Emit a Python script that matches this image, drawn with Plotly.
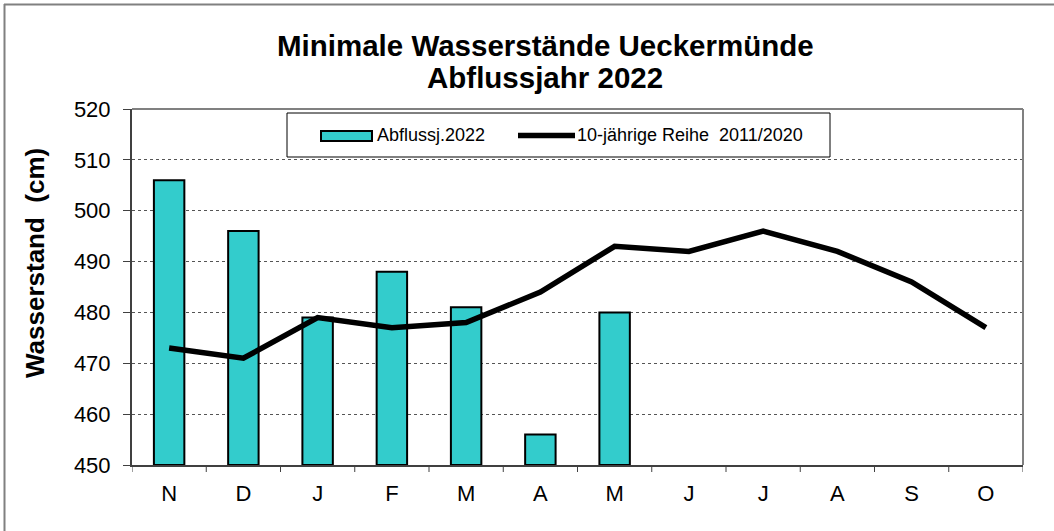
import plotly.graph_objects as go

months = ["N", "D", "J", "F", "M", "A", "M", "J", "J", "A", "S", "O"]
bars_2022 = [506, 496, 479, 488, 481, 456, 480, None, None, None, None, None]
reihe_2011_2020 = [473, 471, 479, 477, 478, 484, 493, 492, 496, 492, 486, 477]
y_ticks = [450, 460, 470, 480, 490, 500, 510, 520]

x = list(range(len(months)))
bar_base = 450
BAR_COLOR = "#33CCCC"

fig = go.Figure()
fig.add_trace(go.Bar(
    x=x, y=[None if v is None else v - bar_base for v in bars_2022], base=bar_base,
    name="Abflussj.2022", width=0.41,
    marker=dict(color=BAR_COLOR, line=dict(color="black", width=2)),
))
fig.add_trace(go.Scatter(
    x=x, y=reihe_2011_2020, mode="lines", name="10-jährige Reihe  2011/2020",
    line=dict(color="black", width=5.5),
))

W, H = 1054, 531
# plot area in page pixels
L, R, T, B = 132, 1023, 109, 465
pw, ph = R - L, B - T

def px(xp):
    return (xp - L) / pw

def py(yp):
    return (B - yp) / ph

shapes = [
    # outer chart frame (left and top visible)
    dict(type="line", xref="paper", yref="paper", x0=px(4.5), x1=px(4.5), y0=py(4), y1=py(560),
         line=dict(color="#808080", width=2)),
    dict(type="line", xref="paper", yref="paper", x0=px(4), x1=px(1080), y0=py(4.5), y1=py(4.5),
         line=dict(color="#808080", width=2)),
    # plot area top and right border
    dict(type="line", xref="paper", yref="paper", x0=0, x1=1, y0=1, y1=1,
         line=dict(color="#808080", width=2)),
    dict(type="line", xref="paper", yref="paper", x0=1, x1=1, y0=0, y1=1,
         line=dict(color="#808080", width=2)),
    # legend box
    dict(type="rect", xref="paper", yref="paper", x0=px(287), x1=px(830), y0=py(157), y1=py(113),
         line=dict(color="black", width=1), fillcolor="white", layer="above"),
    dict(type="rect", xref="paper", yref="paper", x0=px(321), x1=px(372), y0=py(141), y1=py(131),
         line=dict(color="black", width=2), fillcolor=BAR_COLOR, layer="above"),
    dict(type="line", xref="paper", yref="paper", x0=px(518), x1=px(575), y0=py(135.5), y1=py(135.5),
         line=dict(color="black", width=5.5), layer="above"),
]
# category separator ticks on x axis
for i in range(len(months) + 1):
    shapes.append(dict(type="line", xref="x", yref="paper", x0=i - 0.5, x1=i - 0.5,
                       y0=0, y1=py(472), line=dict(color="#404040", width=1)))

annotations = [
    dict(text="<b>Minimale Wasserstände Ueckermünde</b>", xref="paper", yref="paper",
         x=px(545), y=py(45), xanchor="center", yanchor="middle", showarrow=False,
         font=dict(size=29.5, color="black")),
    dict(text="<b>Abflussjahr 2022</b>", xref="paper", yref="paper",
         x=px(545), y=py(77), xanchor="center", yanchor="middle", showarrow=False,
         font=dict(size=29.5, color="black")),
    dict(text="<b>Wasserstand\u00a0\u00a0(cm)</b>", xref="paper", yref="paper",
         x=px(35), y=py(263), xanchor="center", yanchor="middle", textangle=-90,
         showarrow=False, font=dict(size=26, color="black")),
    dict(text="Abflussj.2022", xref="paper", yref="paper",
         x=px(375), y=py(135), xanchor="left", yanchor="middle", showarrow=False,
         font=dict(size=18, color="black")),
    dict(text="10-jährige Reihe\u00a0\u00a02011/2020", xref="paper", yref="paper",
         x=px(575), y=py(135), xanchor="left", yanchor="middle", showarrow=False,
         font=dict(size=18, color="black")),
]

fig.update_layout(
    width=W, height=H,
    margin=dict(l=L, r=W - R, t=T, b=H - B),
    paper_bgcolor="white", plot_bgcolor="white",
    font=dict(family="Liberation Sans, Arial, sans-serif", color="black"),
    barmode="overlay",
    showlegend=False,
    xaxis=dict(
        range=[-0.5, len(months) - 0.5],
        tickmode="array", tickvals=x, ticktext=months,
        ticks="", showgrid=False, showline=True, linecolor="#404040", linewidth=2,
        tickfont=dict(size=22), zeroline=False, ticklabelstandoff=8,
    ),
    yaxis=dict(
        range=[450, 520], tickmode="array", tickvals=y_ticks,
        ticks="outside", ticklen=7, tickcolor="#404040",
        showline=True, linecolor="#404040", linewidth=2,
        showgrid=True, gridcolor="#555555", griddash="dot", gridwidth=1,
        tickfont=dict(size=22), zeroline=False, ticklabelstandoff=8,
    ),
    shapes=shapes,
    annotations=annotations,
)

fig.write_html("out.html", config={"displayModeBar": False},
               post_script="document.body.style.margin='0px';")
